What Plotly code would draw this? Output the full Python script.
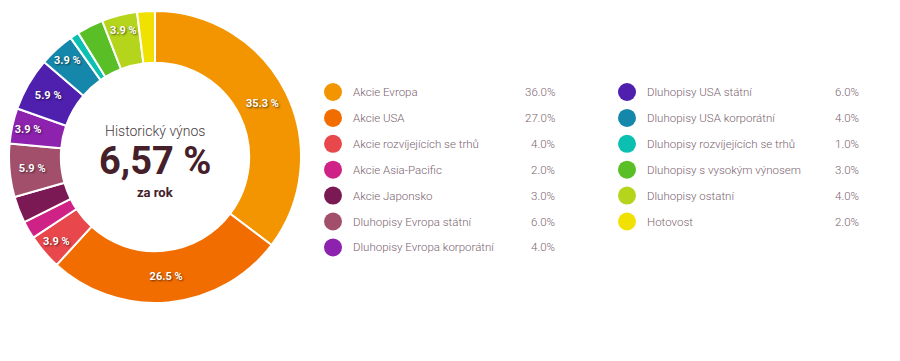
import plotly.graph_objects as go

labels = ["Akcie Evropa", "Akcie USA", "Akcie rozvíjejících se trhů", "Akcie Asia-Pacific",
          "Akcie Japonsko", "Dluhopisy Evropa státní", "Dluhopisy Evropa korporátní",
          "Dluhopisy USA státní", "Dluhopisy USA korporátní", "Dluhopisy rozvíjejících se trhů",
          "Dluhopisy s vysokým výnosem", "Dluhopisy ostatní", "Hotovost"]
values = [36.0, 27.0, 4.0, 2.0, 3.0, 6.0, 4.0, 6.0, 4.0, 1.0, 3.0, 4.0, 2.0]
colors = ["#F29500", "#F26D00", "#E8474C", "#CF2286", "#7B1954", "#A24F6B", "#8C22AE",
          "#4F1FAE", "#1587AB", "#0BBFB1", "#5ABE27", "#B4D51C", "#F1E102"]

total = sum(values)
slice_text = [f"{v / total * 100:.1f} %" if v >= 4 else "" for v in values]

W, H = 892, 353          # page body has an 8px margin
OFF = 8
cx, cy, R = 155 - OFF, 157 - OFF, 146


def px(x):
    return x / W


def py(y):
    return 1 - y / H


fig = go.Figure()
fig.add_trace(go.Pie(
    labels=labels, values=values, sort=False, direction="clockwise", rotation=0,
    hole=0.645,
    marker=dict(colors=colors, line=dict(color="white", width=2)),
    text=slice_text, textinfo="text", textposition="inside",
    insidetextorientation="horizontal",
    textfont=dict(family="Roboto", size=11, color="white", weight="bold",
                  shadow="1px 1px 2px rgba(0,0,0,0.6)"),
    showlegend=False, hoverinfo="label+percent",
    domain=dict(x=[px(cx - R), px(cx + R)], y=[py(cy + R), py(cy - R)]),
))

# Legend built from the data arrays
n_col1 = 7
col_circle_x = [333 - OFF, 627 - OFF]
col_label_x = [351 - OFF, 645 - OFF]
col_value_x = [557 - OFF, 861 - OFF]
row_y0, row_dy = 92 - OFF, 25.9

mx, my = [], []
for i, (lab, val) in enumerate(zip(labels, values)):
    c = 0 if i < n_col1 else 1
    r = i if i < n_col1 else i - n_col1
    y = row_y0 + r * row_dy
    mx.append(col_circle_x[c])
    my.append(y)
    fig.add_annotation(x=px(col_label_x[c]), y=py(y), xref="paper", yref="paper",
                       text=lab, showarrow=False, xanchor="left", yanchor="middle",
                       font=dict(family="Roboto", size=11.5, color="#7B6470", weight=300))
    fig.add_annotation(x=px(col_value_x[c]), y=py(y), xref="paper", yref="paper",
                       text=f"{val:.1f}%", showarrow=False, xanchor="right", yanchor="middle",
                       font=dict(family="Roboto", size=11.5, color="#7B6470", weight=300))

fig.add_trace(go.Scatter(
    x=mx, y=my, mode="markers", showlegend=False, hoverinfo="skip",
    marker=dict(size=18, color=colors, line=dict(width=0)),
    xaxis="x", yaxis="y",
))

# Center text
fig.add_annotation(x=px(cx), y=py(131 - OFF), xref="paper", yref="paper", showarrow=False,
                   xanchor="center", yanchor="middle",
                   text="Historický výnos", font=dict(family="Roboto", size=14, color="#4A3A40", weight=300))
fig.add_annotation(x=px(cx), y=py(161 - OFF), xref="paper", yref="paper", showarrow=False,
                   xanchor="center", yanchor="middle",
                   text="6,57 %", font=dict(family="Roboto", size=38, color="#45202A", weight="bold"))
fig.add_annotation(x=px(cx), y=py(192 - OFF), xref="paper", yref="paper", showarrow=False,
                   xanchor="center", yanchor="middle",
                   text="za rok", font=dict(family="Roboto", size=13, color="#45202A", weight="bold"))

fig.update_layout(
    width=W, height=H, margin=dict(l=0, r=0, t=0, b=0),
    paper_bgcolor="white", plot_bgcolor="rgba(0,0,0,0)",
    xaxis=dict(range=[0, W], visible=False, fixedrange=True, domain=[0, 1]),
    yaxis=dict(range=[H, 0], visible=False, fixedrange=True, domain=[0, 1]),
)

fig.write_html("out.html")
